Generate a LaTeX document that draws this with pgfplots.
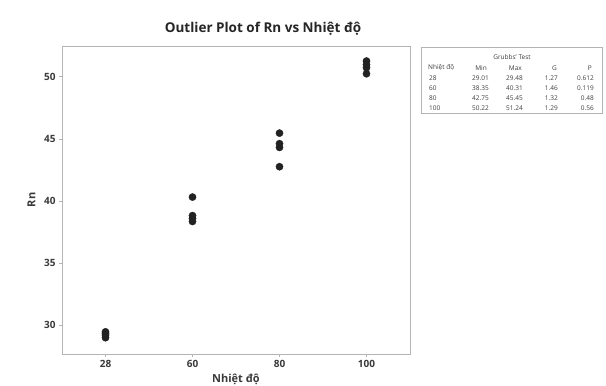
\documentclass[border=0pt]{standalone}
\usepackage{pgfplots}
\pgfplotsset{compat=1.18}
\usepackage{fontspec}
\setmainfont{Open Sans}
\definecolor{tick}{HTML}{3A3A3A}
\definecolor{frame}{HTML}{B4B4B4}
\definecolor{dot}{HTML}{222222}
\definecolor{tab}{HTML}{3F3F3F}
\begin{document}
\begin{tikzpicture}[x=1pt,y=1pt]
\useasboundingbox (0,0) rectangle (606,386);
\fill[white] (0,0) rectangle (606,386);
\begin{axis}[
  at={(62pt,32pt)}, anchor=south west, scale only axis,
  width=348pt, height=308pt,
  xmin=-0.5, xmax=3.5, ymin=27.7, ymax=52.45,
  xtick={0,1,2,3}, xticklabels={28,60,80,100},
  ytick={30,35,40,45,50},
  tick align=outside, tick pos=left,
  major tick length=3pt,
  axis line style={draw=frame},
  every tick/.style={draw=frame},
  tick label style={font=\fontsize{10}{12}\selectfont\bfseries, text=tick},
  /pgf/number format/assume math mode=true,
  xlabel={Nhiệt độ}, ylabel={Rn},
  label style={font=\fontsize{11}{13}\selectfont\bfseries, text=tick},
  xlabel style={at={(axis description cs:0.5,-0.092)}, anchor=base},
  ylabel style={at={(axis description cs:-0.088,0.5)}, anchor=center, rotate=0},
  clip=false,
]
\addplot[only marks, mark=*, mark size=3.6pt, mark options={fill=dot, draw=dot}] coordinates {
  (0,29.01) (0,29.22) (0,29.35) (0,29.48)
  (1,38.35) (1,38.60) (1,38.82) (1,40.31)
  (2,42.75) (2,44.30) (2,44.60) (2,45.45)
  (3,50.22) (3,50.70) (3,50.95) (3,51.24)
};
\end{axis}
\node[font=\fontsize{13.5}{16}\selectfont\bfseries, text=black!85, anchor=base] at (263,386-33) {Outlier Plot of Rn vs Nhiệt độ};
% Grubbs table
\draw[frame] (421,386-47) rectangle (602,386-113);
\begin{scope}[every node/.style={font=\fontsize{6.5}{8}\selectfont, text=tab, inner sep=0pt}]
\node at (512,386-57) {Grubbs' Test};
\node[anchor=west] at (428,386-68) {Nhiệt độ};
\node[anchor=east] at (487,386-68) {Min};
\node[anchor=east] at (522,386-68) {Max};
\node[anchor=east] at (557,386-68) {G};
\node[anchor=east] at (592,386-68) {P};
\foreach \y/\a/\b/\c/\d/\e in {78/28/29.01/29.48/1.27/0.612, 88/60/38.35/40.31/1.46/0.119, 98/80/42.75/45.45/1.32/0.48, 108/100/50.22/51.24/1.29/0.56}{
  \node[anchor=west] at (429,386-\y) {\a};
  \node[anchor=east] at (489,386-\y) {\b};
  \node[anchor=east] at (523,386-\y) {\c};
  \node[anchor=east] at (558,386-\y) {\d};
  \node[anchor=east] at (594,386-\y) {\e};
}
\end{scope}
\end{tikzpicture}
\end{document}
